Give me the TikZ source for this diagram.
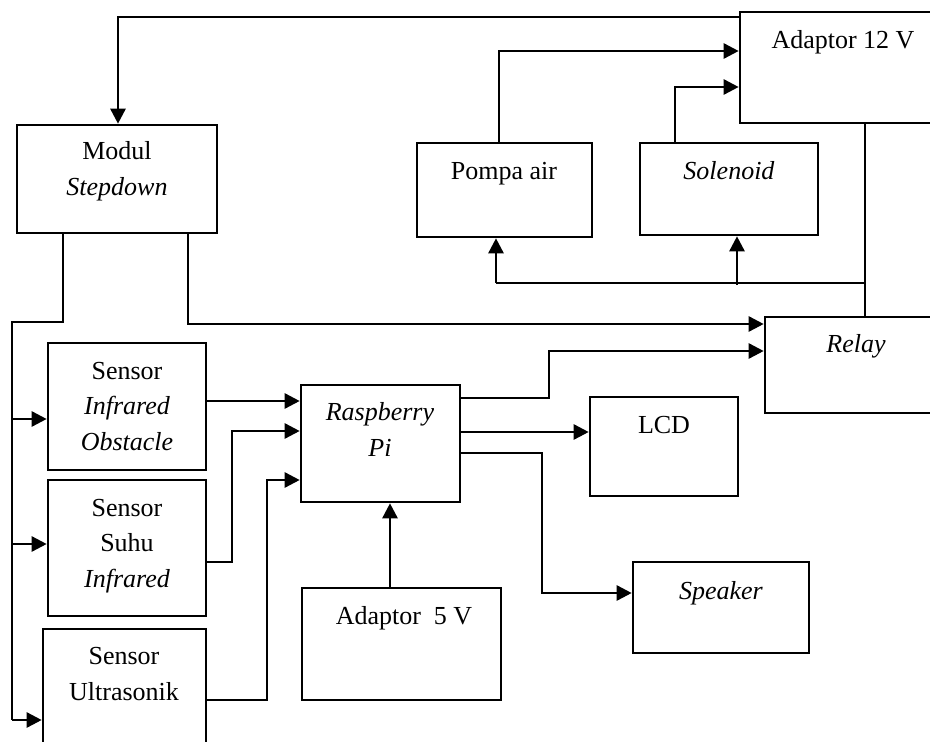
\documentclass[tikz,border=0pt]{standalone}
\usepackage{fontspec}
\setmainfont{Liberation Serif}
\usetikzlibrary{arrows.meta,fit}

\tikzset{
  blok/.style={draw, line width=2.6pt, inner sep=0pt, rectangle},
  % anchor=base sits on the baseline of the last line
  lbl/.style={anchor=base, align=center, inner sep=0pt,
    font=\fontsize{26}{35.5}\selectfont},
  wire/.style={line width=2.6pt},
  arr/.style={wire, -{Triangle[length=15pt,width=15pt]}},
}

\begin{document}
\begin{tikzpicture}[x=1pt,y=-1pt]
\useasboundingbox (0,0) rectangle (930,742);
\fill[white] (0,0) rectangle (930,742);
\clip (0,0) rectangle (930,742);

% blocks
\node[blok, fit={(17,125) (217,233)}] (modul) {};
\node[blok, fit={(740,12) (945,123)}] (a12) {};
\node[blok, fit={(417,143) (592,237)}] (pompa) {};
\node[blok, fit={(640,143) (818,235)}] (sol) {};
\node[blok, fit={(765,317) (945,413)}] (relay) {};
\node[blok, fit={(301,385) (460,502)}] (rpi) {};
\node[blok, fit={(48,343) (206,470)}] (io) {};
\node[blok, fit={(48,480) (206,616)}] (suhu) {};
\node[blok, fit={(43,629) (206,770)}] (ultra) {};
\node[blok, fit={(302,588) (501,700)}] (a5) {};
\node[blok, fit={(590,397) (738,496)}] (lcd) {};
\node[blok, fit={(633,562) (809,653)}] (spk) {};

% labels
\node[lbl] (modul-t) at (117,195) {Modul\\\textit{Stepdown}};
\node[lbl] (a12-t) at (843,48) {Adaptor 12 V};
\node[lbl] (pompa-t) at (504,179) {Pompa air};
\node[lbl] (sol-t) at (729,179) {\textit{Solenoid}};
\node[lbl] (relay-t) at (856,352) {\textit{Relay}};
\node[lbl] (rpi-t) at (380,456) {\textit{Raspberry}\\\textit{Pi}};
\node[lbl] (io-t) at (127,450) {Sensor\\\textit{Infrared}\\\textit{Obstacle}};
\node[lbl] (suhu-t) at (127,587) {Sensor\\Suhu\\\textit{Infrared}};
\node[lbl] (ultra-t) at (124,700) {Sensor\\Ultrasonik};
\node[lbl] (a5-t) at (404,624) {Adaptor\ \ 5 V};
\node[lbl] (lcd-t) at (664,433) {LCD};
\node[lbl] (spk-t) at (721,599) {\textit{Speaker}};

% junction points
\coordinate (j12) at (865,283);
\coordinate (jpompa) at (496,283);
\coordinate (jsol) at (737,285);
\coordinate (jsd) at (63,322);
\coordinate (jbus) at (12,322);
\coordinate (jbusend) at (12,720);

% 12 V supply to step-down module
\draw[arr] (a12.west |- 0,17) -| (118,0 |- modul.north);

% pump and solenoid to 12 V adaptor
\draw[arr] (499,0 |- pompa.north) |- (a12.west |- 0,51);
\draw[arr] (675,0 |- sol.north) |- (a12.west |- 0,87);

% 12 V line down to the relay, branching to pump and solenoid
\draw[wire] (865,0 |- a12.south) -- (865,0 |- relay.north);
\draw[wire] (j12) -- (jpompa);
\draw[arr] (jpompa) -- (496,0 |- pompa.south);
\draw[arr] (jsol) -- (737,0 |- sol.south);

% step-down outputs: sensor bus and relay
\draw[wire] (63,0 |- modul.south) -- (jsd) -- (jbus) -- (jbusend);
\draw[arr] (12,419) -- (io.west |- 0,419);
\draw[arr] (12,544) -- (suhu.west |- 0,544);
\draw[arr] (jbusend) -- (ultra.west |- jbusend);
\draw[arr] (188,0 |- modul.south) |- (relay.west |- 0,324);

% sensors to Raspberry Pi
\draw[arr] (io.east |- 0,401) -- (rpi.west |- 0,401);
\draw[arr] (suhu.east |- 0,562) -- (232,562) |- (rpi.west |- 0,431);
\draw[arr] (ultra.east |- 0,700) -- (267,700) |- (rpi.west |- 0,480);

% 5 V supply
\draw[arr] (390,0 |- a5.north) -- (390,0 |- rpi.south);

% Raspberry Pi outputs
\draw[arr] (rpi.east |- 0,398) -- (549,398) |- (relay.west |- 0,351);
\draw[arr] (rpi.east |- 0,432) -- (lcd.west |- 0,432);
\draw[arr] (rpi.east |- 0,453) -- (542,453) |- (spk.west |- 0,593);
\end{tikzpicture}
\end{document}
